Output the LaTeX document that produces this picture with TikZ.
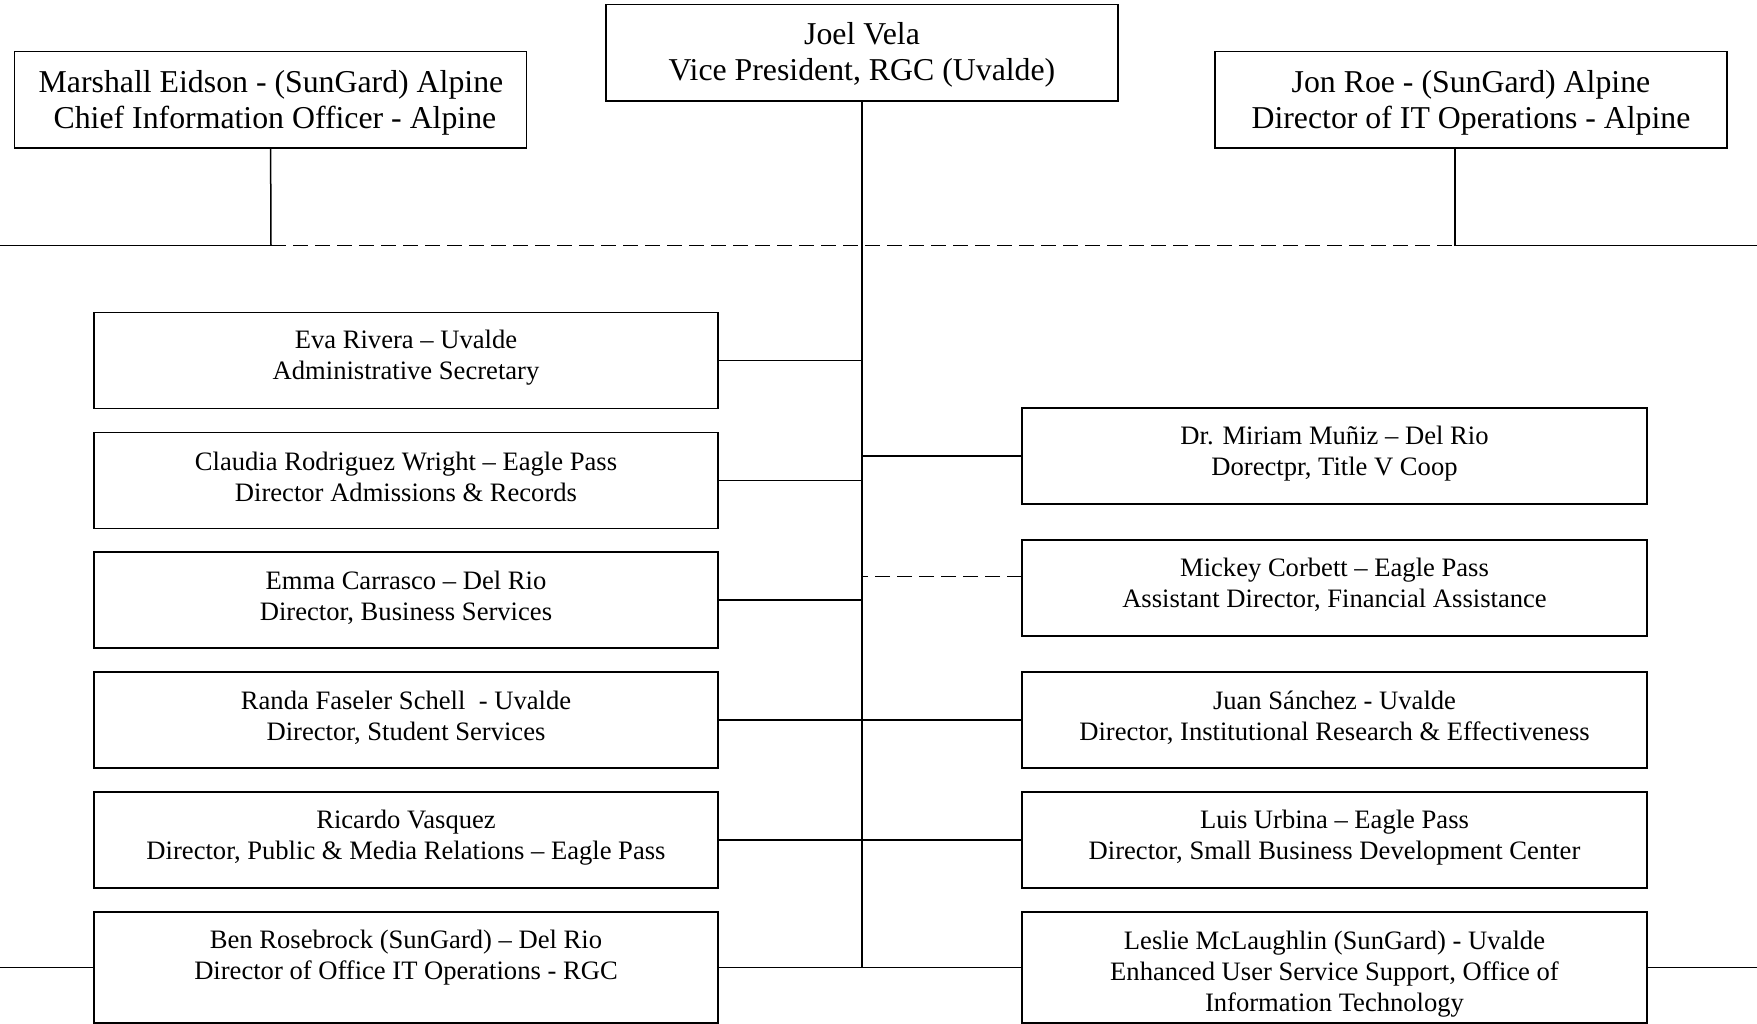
\documentclass[tikz,border=0pt]{standalone}
\usepackage{fontspec}
\setmainfont{Liberation Serif}
\begin{document}
\begin{tikzpicture}[x=1pt,y=-1pt,
  box/.style={draw, line width=1.6pt, inner sep=0pt, outer sep=0pt, minimum width=624pt, minimum height=96pt, anchor=north west},
  topbox/.style={draw, line width=1.6pt, inner sep=0pt, outer sep=0pt, minimum width=512pt, minimum height=96.5pt, anchor=north west},
  lbl/.style={font=\fontsize{26.6}{31}\selectfont, align=center, inner sep=0pt},
  toplbl/.style={font=\fontsize{31.8}{36}\selectfont, align=center, inner sep=0pt},
  conn/.style={line width=1.5pt},
  dconn/.style={line width=1.5pt, dash pattern=on 15pt off 7pt}]
\useasboundingbox (0,0) rectangle (1757,1024);
% top boxes
\node[topbox] (joel) at (606,4.5) {};
\node[toplbl] (joelt) at (862,54.5) {Joel Vela\\Vice President, RGC (Uvalde)};
\node[topbox] (marsh) at (14.6,51.5) {};
\node[toplbl] (marsht) at (271,103) {Marshall Eidson - (SunGard) Alpine\\\ Chief Information Officer - Alpine};
\node[topbox] (jon) at (1215,51.5) {};
\node[toplbl] (jont) at (1471,103) {Jon Roe - (SunGard) Alpine\\Director of IT Operations - Alpine};
% left boxes
\node[box] (eva) at (94,312.6) {};
\node[lbl] (evat) at (406,357.4) {Eva Rivera -- Uvalde\\Administrative Secretary};
\node[box] (cla) at (94,432.5) {};
\node[lbl] (clat) at (406,477.4) {Claudia Rodriguez Wright -- Eagle Pass\\Director Admissions \& Records};
\node[box] (emma) at (94,552) {};
\node[lbl] (emmat) at (406,597.4) {Emma Carrasco -- Del Rio\\Director, Business Services};
\node[box] (randa) at (94,672) {};
\node[lbl] (randat) at (406,717.4) {Randa Faseler Schell~ - Uvalde\\Director, Student Services};
\node[box] (ric) at (94,792) {};
\node[lbl] (rict) at (406,837.4) {Ricardo Vasquez\\Director, Public \& Media Relations -- Eagle Pass};
\node[box, minimum height=111pt] (ben) at (94,912) {};
\node[lbl] (bent) at (406,957.4) {Ben Rosebrock (SunGard) -- Del Rio\\Director of Office IT Operations - RGC};
% right boxes
\node[box, minimum width=625pt] (mir) at (1022,408) {};
\node[lbl] (mirt) at (1334.5,453.4) {Dr. Miriam Muñiz -- Del Rio\\Dorectpr, Title V Coop};
\node[box, minimum width=625pt] (mick) at (1022,540) {};
\node[lbl] (mickt) at (1334.5,584.9) {Mickey Corbett -- Eagle Pass\\Assistant Director, Financial Assistance};
\node[box, minimum width=625pt] (juan) at (1022,672) {};
\node[lbl] (juant) at (1334.5,717.4) {Juan Sánchez - Uvalde\\Director, Institutional Research \& Effectiveness};
\node[box, minimum width=625pt] (luis) at (1022,792) {};
\node[lbl] (luist) at (1334.5,837.4) {Luis Urbina -- Eagle Pass\\Director, Small Business Development Center};
\node[box, minimum width=625pt, minimum height=111pt] (les) at (1022,912) {};
\node[lbl] (lest) at (1334.5,974.4) {Leslie McLaughlin (SunGard) - Uvalde\\Enhanced User Service Support, Office of\\Information Technology};
% coordinates
\coordinate (vbot) at (862,967.5);
\coordinate (hl) at (0,245.3);
\coordinate (hr) at (1757,245.3);
\coordinate (mdrop) at (271,245.3);
\coordinate (jdrop) at (1455,245.3);
\coordinate (dend) at (1471,245.3);
\coordinate (bl) at (0,967.5);
\coordinate (br) at (1757,967.5);
% connectors
\draw[conn] (joel.south) -- (vbot);
\draw[conn] (marsh.south) -- (mdrop);
\draw[conn] (hl) -- (mdrop);
\draw[dconn] (mdrop) -- (dend);
\draw[conn] ([xshift=-16pt]jon.south) -- (jdrop) -- (hr);
\draw[conn] (eva.east) -- (eva.east -| vbot);
\draw[conn] (cla.east) -- (cla.east -| vbot);
\draw[conn] (emma.east) -- (emma.east -| vbot);
\draw[conn] (randa.east) -- (juan.west);
\draw[conn] (ric.east) -- (luis.west);
\draw[conn] (ben.east) -- (les.west);
\draw[conn] (bl) -- (ben.west);
\draw[conn] (les.east) -- (br);
\draw[conn] (mir.west) -- (mir.west -| vbot);
\draw[dconn] ([yshift=11.5pt]mick.west) -- ([yshift=11.5pt]mick.west -| vbot);
\end{tikzpicture}
\end{document}
